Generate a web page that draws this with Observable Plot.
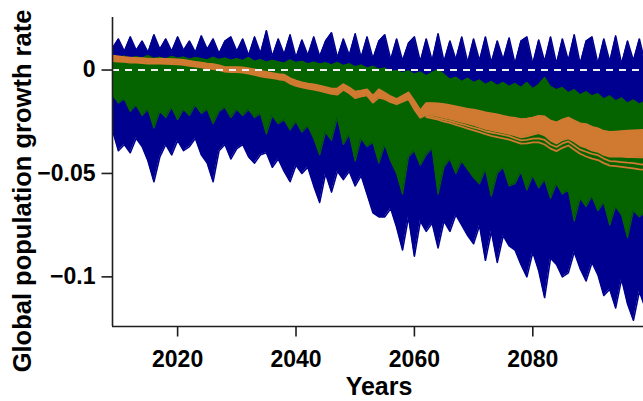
<!DOCTYPE html>
<html>
<head>
<meta charset="utf-8">
<script src="https://cdn.jsdelivr.net/npm/d3@7"></script>
<script src="https://cdn.jsdelivr.net/npm/@observablehq/plot@0.6"></script>
<style>
  html, body { margin: 0; padding: 0; background: #fff; }
  #chart svg { display: block; }
</style>
</head>
<body>
<div id="chart"></div>
<script>
// ---- data ----
const firstYear = 2009, lastYear = 2100;
const xTicks = [2020, 2040, 2060, 2080];
const yTicks = [0, -0.05, -0.1];

// blue ensemble envelope (upper and lower edge of all blue trajectories)
const blueHi = [
  0.0105,0.0150,0.0090,0.0160,0.0095,0.0140,0.0085,0.0170,0.0100,0.0150,0.0090,0.0160,
  0.0095,0.0140,0.0085,0.0165,0.0100,0.0150,0.0080,0.0140,0.0160,0.0090,
  0.0150,0.0070,0.0160,0.0080,0.0190,0.0065,0.0150,0.0075,0.0170,0.0060,
  0.0145,0.0070,0.0160,0.0065,0.0140,0.0180,0.0060,0.0150,0.0070,0.0175,
  0.0060,0.0160,0.0055,0.0140,0.0170,0.0050,0.0150,0.0045,0.0130,0.0160,
  0.0040,0.0150,0.0045,0.0175,0.0040,0.0140,0.0050,0.0160,0.0035,0.0150,
  0.0045,0.0160,0.0035,0.0140,0.0050,0.0155,0.0030,0.0140,0.0160,0.0030,
  0.0145,0.0040,0.0160,0.0030,0.0150,0.0045,0.0170,0.0030,0.0140,0.0160,
  0.0030,0.0150,0.0040,0.0165,0.0030,0.0140,0.0045,0.0150,0.0030,0.0140
];
const blueLo = [
  -0.029,-0.039,-0.036,-0.040,-0.033,-0.037,-0.044,-0.054,-0.042,-0.036,-0.041,-0.034,
  -0.039,-0.037,-0.033,-0.041,-0.045,-0.054,-0.039,-0.036,-0.043,-0.038,
  -0.036,-0.042,-0.045,-0.041,-0.040,-0.047,-0.043,-0.049,-0.054,-0.046,
  -0.050,-0.047,-0.056,-0.064,-0.050,-0.059,-0.049,-0.053,-0.049,-0.056,
  -0.051,-0.060,-0.069,-0.071,-0.071,-0.067,-0.076,-0.087,-0.071,-0.090,
  -0.073,-0.078,-0.074,-0.086,-0.073,-0.078,-0.070,-0.075,-0.080,-0.084,
  -0.075,-0.092,-0.078,-0.093,-0.080,-0.085,-0.087,-0.094,-0.100,-0.088,
  -0.097,-0.110,-0.091,-0.094,-0.100,-0.098,-0.088,-0.096,-0.102,-0.093,
  -0.099,-0.109,-0.106,-0.115,-0.101,-0.113,-0.121,-0.107,-0.115,-0.110
];
// green ensemble envelope
const greenHi = [
  0.0072,0.0060,0.0068,0.0055,0.0065,0.0058,0.0070,0.0056,0.0062,0.0054,0.0066,0.0057,
  0.0063,0.0052,0.0060,0.0055,0.0049,0.0062,0.0051,0.0058,0.0047,0.0055,
  0.0046,0.0060,0.0042,0.0050,0.0038,0.0047,0.0040,0.0034,0.0048,0.0036,
  0.0042,0.0030,0.0038,0.0029,0.0035,0.0025,0.0036,0.0022,0.0030,0.0016,
  0.0024,0.0010,0.0018,0.0004,0.0010,-0.0008,-0.0002,-0.0014,-0.0004,-0.0020,
  -0.0010,-0.0028,-0.0012,0.0002,-0.0020,-0.0045,-0.0035,-0.0055,-0.0040,-0.0060,
  -0.0048,-0.0070,-0.0055,-0.0075,-0.0060,-0.0080,-0.0065,-0.0085,-0.0060,-0.0090,
  -0.0070,-0.0036,-0.0080,-0.0095,-0.0085,-0.0110,-0.0095,-0.0120,-0.0105,-0.0125,
  -0.0115,-0.0140,-0.0125,-0.0150,-0.0135,-0.0160,-0.0145,-0.0165,-0.0150,-0.0170
];
const greenLo = [
  -0.012,-0.016,-0.014,-0.020,-0.017,-0.022,-0.019,-0.028,-0.020,-0.023,-0.018,-0.024,
  -0.019,-0.022,-0.017,-0.021,-0.019,-0.026,-0.020,-0.018,-0.023,-0.019,
  -0.022,-0.019,-0.023,-0.021,-0.031,-0.022,-0.026,-0.024,-0.029,-0.025,
  -0.030,-0.027,-0.033,-0.041,-0.030,-0.034,-0.023,-0.036,-0.031,-0.044,
  -0.033,-0.037,-0.035,-0.045,-0.036,-0.044,-0.050,-0.060,-0.042,-0.039,
  -0.046,-0.041,-0.038,-0.060,-0.047,-0.043,-0.050,-0.044,-0.048,-0.052,
  -0.055,-0.048,-0.061,-0.050,-0.047,-0.056,-0.055,-0.049,-0.058,-0.051,
  -0.057,-0.053,-0.062,-0.055,-0.060,-0.058,-0.073,-0.062,-0.066,-0.061,
  -0.068,-0.064,-0.075,-0.066,-0.070,-0.081,-0.068,-0.071,-0.069,-0.072
];
// orange bundle (core band)
const orangeHi = [
  0.0069,0.0066,0.0062,0.0060,0.0058,0.0057,0.0055,0.0053,0.0054,0.0053,0.0052,0.0051,
  0.0049,0.0044,0.0039,0.0035,0.0031,0.0028,0.0022,0.0014,0.0013,0.0013,
  0.0012,0.0008,0.0003,-0.0004,-0.0010,-0.0015,-0.0020,-0.0023,-0.0040,-0.0052,
  -0.0060,-0.0066,-0.0070,-0.0076,-0.0083,-0.0090,-0.0090,-0.0069,-0.0085,-0.0105,
  -0.0100,-0.0094,-0.0125,-0.0094,-0.0110,-0.0128,-0.0141,-0.0125,-0.0109,-0.0150,
  -0.0196,-0.0160,-0.0160,-0.0162,-0.0165,-0.0170,-0.0176,-0.0182,-0.0188,-0.0192,
  -0.0198,-0.0205,-0.0210,-0.0215,-0.0222,-0.0228,-0.0232,-0.0238,-0.0236,-0.0230,
  -0.0222,-0.0225,-0.0245,-0.0254,-0.0240,-0.0230,-0.0245,-0.0258,-0.0262,-0.0275,
  -0.0282,-0.0295,-0.0300,-0.0298,-0.0296,-0.0294,-0.0292,-0.0291,-0.0290,-0.0290
];
const orangeLo = [
  0.0044,0.0041,0.0040,0.0037,0.0036,0.0034,0.0032,0.0031,0.0031,0.0030,0.0029,0.0028,
  0.0026,0.0021,0.0017,0.0013,0.0009,0.0005,0.0000,-0.0007,-0.0009,-0.0010,
  -0.0012,-0.0017,-0.0023,-0.0030,-0.0035,-0.0039,-0.0044,-0.0048,-0.0065,-0.0076,
  -0.0083,-0.0089,-0.0094,-0.0100,-0.0107,-0.0115,-0.0118,-0.0095,-0.0112,-0.0135,
  -0.0127,-0.0122,-0.0157,-0.0133,-0.0140,-0.0155,-0.0165,-0.0152,-0.0140,-0.0190,
  -0.0230,-0.0215,-0.0218,-0.0222,-0.0230,-0.0236,-0.0243,-0.0250,-0.0258,-0.0265,
  -0.0274,-0.0284,-0.0290,-0.0296,-0.0302,-0.0308,-0.0316,-0.0325,-0.0320,-0.0312,
  -0.0305,-0.0315,-0.0340,-0.0355,-0.0338,-0.0330,-0.0345,-0.0365,-0.0375,-0.0388,
  -0.0395,-0.0410,-0.0418,-0.0418,-0.0418,-0.0420,-0.0420,-0.0422,-0.0422,-0.0424
];
// two outlying orange trajectories that split off after 2062
const orangeSplitStart = 2062;
const orangeMid = [
  -0.0222,-0.0226,-0.0232,-0.0240,-0.0246,-0.0254,-0.0262,-0.0270,-0.0278,
  -0.0286,-0.0296,-0.0302,-0.0308,-0.0314,-0.0320,-0.0330,-0.0340,-0.0338,-0.0332,
  -0.0330,-0.0338,-0.0360,-0.0372,-0.0355,-0.0345,-0.0365,-0.0385,-0.0395,-0.0405,
  -0.0412,-0.0428,-0.0440,-0.0442,-0.0445,-0.0448,-0.0450,-0.0455,-0.0458,-0.0460
];
const orangeLow = [
  -0.0228,-0.0234,-0.0240,-0.0250,-0.0256,-0.0265,-0.0274,-0.0283,-0.0292,
  -0.0300,-0.0310,-0.0318,-0.0324,-0.0330,-0.0336,-0.0346,-0.0356,-0.0355,-0.0350,
  -0.0350,-0.0360,-0.0380,-0.0392,-0.0376,-0.0365,-0.0385,-0.0405,-0.0418,-0.0428,
  -0.0435,-0.0450,-0.0462,-0.0465,-0.0468,-0.0472,-0.0475,-0.0480,-0.0482,-0.0485
];

// ---- build tables ----
const years = d3.range(firstYear, lastYear + 1);
const rows = years.map((year, i) => ({
  year, blueHi: blueHi[i], blueLo: blueLo[i], greenHi: greenHi[i], greenLo: greenLo[i],
  orangeHi: orangeHi[i], orangeLo: orangeLo[i]
}));
const splitRows = d3.range(orangeSplitStart, lastYear + 1).map((year, i) => ({
  year, mid: orangeMid[i], low: orangeLow[i]
}));

const BLUE = "#000090", GREEN = "#066400", ORANGE = "#cf7a30", AXIS = "#1e1e1e";
const xDomain = [2009, 2098.7];
const yDomain = [-0.124, 0.0254];
const fmtY = d => d === 0 ? "0" : "\u2212" + String(Math.abs(d));

const chart = Plot.plot({
  width: 643,
  height: 401,
  marginLeft: 112,
  marginRight: 0,
  marginTop: 17,
  marginBottom: 75,
  style: { fontFamily: "'Liberation Sans', Arial, Helvetica, sans-serif", fontSize: "23px", fontWeight: "bold", color: AXIS, background: "#fff" },
  x: { domain: xDomain, axis: null },
  y: { domain: yDomain, axis: null },
  marks: [
    // blue ensemble
    Plot.areaY(rows, { x: "year", y1: "blueLo", y2: "blueHi", fill: BLUE, clip: true }),
    Plot.line(rows, { x: "year", y: "blueHi", stroke: BLUE, strokeWidth: 1.6, clip: true }),
    Plot.line(rows, { x: "year", y: "blueLo", stroke: BLUE, strokeWidth: 1.6, clip: true }),
    // green ensemble
    Plot.areaY(rows, { x: "year", y1: "greenLo", y2: "greenHi", fill: GREEN, clip: true }),
    Plot.line(rows, { x: "year", y: "greenHi", stroke: GREEN, strokeWidth: 1.2, clip: true }),
    Plot.line(rows, { x: "year", y: "greenLo", stroke: GREEN, strokeWidth: 1.2, clip: true }),
    // orange bundle
    Plot.areaY(rows, { x: "year", y1: "orangeLo", y2: "orangeHi", fill: ORANGE, clip: true }),
    Plot.line(rows, { x: "year", y: "orangeHi", stroke: ORANGE, strokeWidth: 2, clip: true }),
    Plot.line(rows, { x: "year", y: "orangeLo", stroke: ORANGE, strokeWidth: 2, clip: true }),
    Plot.line(splitRows, { x: "year", y: "mid", stroke: ORANGE, strokeWidth: 1.8, clip: true }),
    Plot.line(splitRows, { x: "year", y: "low", stroke: ORANGE, strokeWidth: 1.8, clip: true }),
    // zero reference
    Plot.ruleY([0], { stroke: "#f0f0f0", strokeWidth: 2, strokeDasharray: "7,6" }),
    // L-shaped box
    Plot.ruleX([xDomain[0]], { stroke: AXIS, strokeWidth: 1.6 }),
    Plot.ruleY([yDomain[0]], { stroke: AXIS, strokeWidth: 1.6 }),
    // axes
    Plot.axisX({ ticks: xTicks, tickFormat: d3.format("d"), tickSize: 10.5, tickPadding: 14,
                 strokeWidth: 1.6, label: null, fontSize: 23, fontWeight: "bold", fill: "#000" }),
    Plot.axisY({ ticks: yTicks, tickFormat: fmtY, tickSize: 10.5, tickPadding: 6.5,
                 strokeWidth: 1.6, label: null, fontSize: 23, fontWeight: "bold", fill: "#000" })
  ]
});

const svg = d3.select(chart);
svg.append("text")
  .attr("transform", "translate(31,191) rotate(-90)")
  .attr("text-anchor", "middle")
  .attr("font-size", 25.5)
  .attr("font-weight", "bold")
  .attr("fill", "#000")
  .style("font-size", "25.5px")
  .text("Global population growth rate");
svg.append("text")
  .attr("x", 379)
  .attr("y", 395)
  .attr("text-anchor", "middle")
  .attr("fill", "#000")
  .style("font-size", "25px")
  .text("Years");

document.getElementById("chart").appendChild(chart);
</script>
</body>
</html>
